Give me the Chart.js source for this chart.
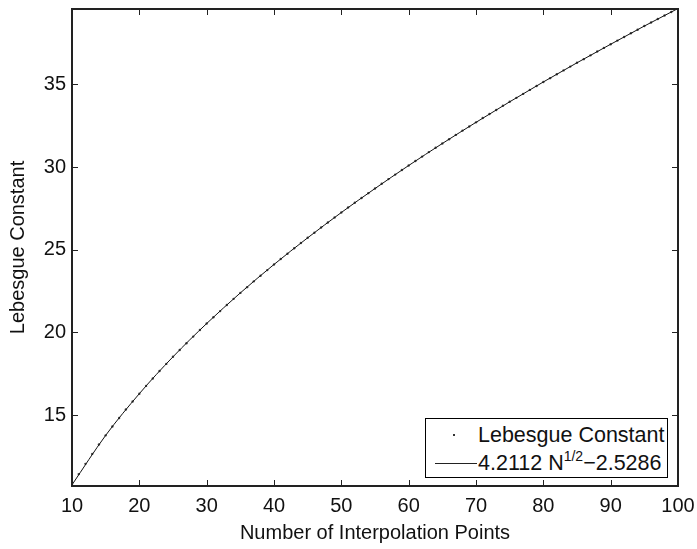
<!DOCTYPE html>
<html>
<head>
<meta charset="utf-8">
<script src="https://cdn.jsdelivr.net/npm/chart.js@4/dist/chart.umd.min.js"></script>
<style>
  body { margin: 0; background: #fff; }
  #wrap { position: relative; width: 697px; height: 549px; }
  #legend {
    position: absolute; left: 425px; top: 418px; width: 241px; height: 58px;
    border: 1px solid #000; background: #fff;
    font-family: "Liberation Sans", Arial, sans-serif; font-size: 21.5px; color: #111;
  }
  #legend .row { height: 28px; line-height: 28px; display: flex; align-items: center; white-space: nowrap; }
  #legend .mark { width: 52px; position: relative; height: 28px; flex: none; }
  #legend .dot { position: absolute; left: 27px; top: 13px; width: 2px; height: 2px; background: #333; }
  #legend .seg { position: absolute; left: 9px; right: 1px; top: 14px; height: 1px; background: #222; }
  #legend sup { font-size: 14px; line-height: 0; vertical-align: 9px; }
</style>
</head>
<body>
<div id="wrap">
  <canvas id="chart" width="697" height="549"></canvas>
  <div id="legend">
    <div class="row" style="margin-top:2px"><span class="mark"><span class="dot"></span></span><span>Lebesgue Constant</span></div>
    <div class="row"><span class="mark"><span class="seg"></span></span><span>4.2112 N<sup>1/2</sup>&minus;2.5286</span></div>
  </div>
</div>
<script>
// number of points N = 10..100
let nPoints = []
for (let n = 10; n <= 100; n++) nPoints.push(n)

// Lebesgue constant, one per N
let lebesgue = [
  10.79, 11.44, 12.06, 12.66, 13.23, 13.78, 14.32, 14.83, 15.34, 15.83,
  16.30, 16.77, 17.22, 17.67, 18.10, 18.53, 18.94, 19.35, 19.75, 20.15,
  20.54, 20.92, 21.29, 21.66, 22.03, 22.39, 22.74, 23.09, 23.43, 23.77,
  24.11, 24.44, 24.76, 25.09, 25.41, 25.72, 26.03, 26.34, 26.65, 26.95,
  27.25, 27.55, 27.84, 28.13, 28.42, 28.70, 28.99, 29.27, 29.54, 29.82,
  30.09, 30.36, 30.63, 30.90, 31.16, 31.42, 31.68, 31.94, 32.20, 32.45,
  32.70, 32.96, 33.20, 33.45, 33.70, 33.94, 34.18, 34.42, 34.66, 34.90,
  35.14, 35.37, 35.61, 35.84, 36.07, 36.30, 36.52, 36.75, 36.98, 37.20,
  37.42, 37.64, 37.86, 38.08, 38.30, 38.52, 38.73, 38.95, 39.16, 39.37,
  39.58
]

// fitted curve, sampled every 5 points
let fitN = [10, 15, 20, 25, 30, 35, 40, 45, 50, 55, 60, 65, 70, 75, 80, 85, 90, 95, 100]
let fitVals = [10.79, 13.78, 16.30, 18.53, 20.54, 22.39, 24.11, 25.72, 27.25, 28.70,
  30.09, 31.42, 32.70, 33.94, 35.14, 36.30, 37.42, 38.52, 39.58]

let xTicks = [10, 20, 30, 40, 50, 60, 70, 80, 90, 100]
let yTicks = [15, 20, 25, 30, 35]

const font = { family: '"Liberation Sans", Arial, sans-serif', size: 20 }

// box round the plot and inward ticks on all four sides
const frame = {
  id: 'frame',
  afterDraw(chart) {
    let ctx = chart.ctx
    let a = chart.chartArea
    let xs = chart.scales.x, ys = chart.scales.y
    ctx.save()
    ctx.strokeStyle = '#222'
    ctx.lineWidth = 1
    xs.ticks.forEach(t => {
      let px = Math.round(xs.getPixelForValue(t.value)) + 0.5
      ctx.beginPath()
      ctx.moveTo(px, a.bottom); ctx.lineTo(px, a.bottom - 6)
      ctx.moveTo(px, a.top); ctx.lineTo(px, a.top + 6)
      ctx.stroke()
    })
    ys.ticks.forEach(t => {
      let py = Math.round(ys.getPixelForValue(t.value)) + 0.5
      ctx.beginPath()
      ctx.moveTo(a.left, py); ctx.lineTo(a.left + 6, py)
      ctx.moveTo(a.right, py); ctx.lineTo(a.right - 6, py)
      ctx.stroke()
    })
    ctx.lineWidth = 2
    ctx.strokeRect(a.left, a.top, a.right - a.left, a.bottom - a.top)
    ctx.restore()
  }
}

let ctx = document.getElementById('chart').getContext('2d')
let chart = new Chart(ctx, {
  type: 'line',
  data: {
    datasets: [
      {
        label: '4.2112 N^1/2-2.5286',
        data: fitN.map((n, i) => ({ x: n, y: fitVals[i] })),
        borderColor: '#111',
        borderWidth: 1,
        pointRadius: 0,
        cubicInterpolationMode: 'monotone',
        fill: false
      },
      {
        label: 'Lebesgue Constant',
        data: nPoints.map((n, i) => ({ x: n, y: lebesgue[i] })),
        showLine: false,
        pointRadius: 1.2,
        pointBackgroundColor: '#444',
        pointBorderWidth: 0
      }
    ]
  },
  options: {
    responsive: false,
    animation: false,
    layout: { padding: { top: 9, right: 19, left: 0, bottom: 0 } },
    plugins: { legend: { display: false }, tooltip: { enabled: false } },
    scales: {
      x: {
        type: 'linear',
        min: 10, max: 100,
        afterBuildTicks: s => { s.ticks = xTicks.map(v => ({ value: v })) },
        afterFit: s => { s.height = 63; s.paddingLeft = 0; s.paddingRight = 0 },
        grid: { display: false, drawTicks: false },
        border: { display: false },
        ticks: { font: font, color: '#111', padding: 8, maxRotation: 0 },
        title: { display: true, text: 'Number of Interpolation Points', font: font, color: '#111', padding: { top: 0, bottom: 4 } }
      },
      y: {
        type: 'linear',
        min: 10.72, max: 39.55,
        afterBuildTicks: s => { s.ticks = yTicks.map(v => ({ value: v })) },
        afterFit: s => { s.width = 72; s.paddingTop = 0; s.paddingBottom = 0 },
        grid: { display: false, drawTicks: false },
        border: { display: false },
        ticks: { font: font, color: '#111', padding: 6 },
        title: { display: true, text: 'Lebesgue Constant', font: font, color: '#111', padding: { top: 6, bottom: 0 } }
      }
    }
  },
  plugins: [frame]
})
</script>
</body>
</html>
